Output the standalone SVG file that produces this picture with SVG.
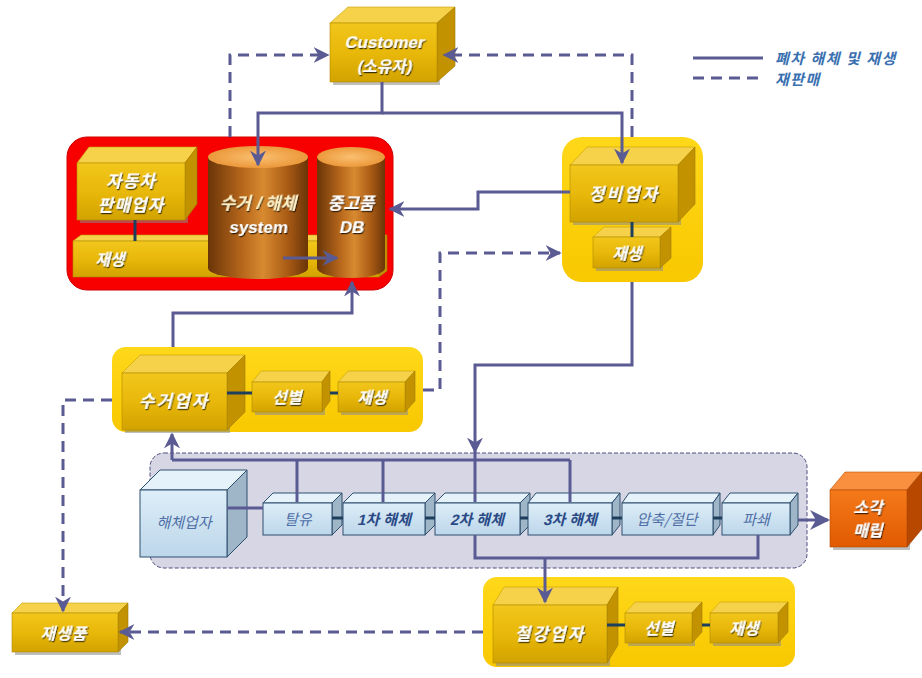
<svg xmlns="http://www.w3.org/2000/svg" width="922" height="678" viewBox="0 0 922 678">
<defs>
<linearGradient id="gFront" x1="0" y1="0" x2="0" y2="1"><stop offset="0" stop-color="#F2C61C"/><stop offset="0.5" stop-color="#E8B80A"/><stop offset="1" stop-color="#D2A200"/></linearGradient>
<linearGradient id="gCont" x1="0" y1="0" x2="0" y2="1"><stop offset="0" stop-color="#FFD81A"/><stop offset="1" stop-color="#F8C800"/></linearGradient>
<linearGradient id="gBlue" x1="0" y1="0" x2="0" y2="1"><stop offset="0" stop-color="#DDEEF8"/><stop offset="1" stop-color="#BCD6EA"/></linearGradient>
<linearGradient id="gOrange" x1="0" y1="0" x2="0" y2="1"><stop offset="0" stop-color="#F57A1A"/><stop offset="1" stop-color="#E05A00"/></linearGradient>
<linearGradient id="gCyl" x1="0" y1="0" x2="1" y2="0"><stop offset="0" stop-color="#6A3508"/><stop offset="0.35" stop-color="#B8681C"/><stop offset="0.55" stop-color="#D88A30"/><stop offset="0.8" stop-color="#A85A14"/><stop offset="1" stop-color="#6A3508"/></linearGradient>
<radialGradient id="gCylTop" cx="0.5" cy="0.5" r="0.6"><stop offset="0" stop-color="#FBC070"/><stop offset="1" stop-color="#E89030"/></radialGradient>
<filter id="ts" x="-20%" y="-30%" width="140%" height="160%"><feDropShadow dx="1.2" dy="1.2" stdDeviation="0.6" flood-color="#000" flood-opacity="0.75"/></filter>
<marker id="ah" viewBox="0 0 10 10" refX="9" refY="5" markerWidth="16" markerHeight="16" markerUnits="userSpaceOnUse" orient="auto"><path d="M0,0 L10,5 L0,10 L3,5 z" fill="#5B5B93"/></marker>
<marker id="ahB" viewBox="0 0 10 10" refX="9" refY="5" markerWidth="20" markerHeight="20" markerUnits="userSpaceOnUse" orient="auto"><path d="M0,0 L10,5 L0,10 L3,5 z" fill="#5B5B93"/></marker>
</defs>
<style>
.ln{fill:none;stroke:#5B5B93;stroke-width:3}
.dl{fill:none;stroke:#5B5B93;stroke-width:3;stroke-dasharray:11 7}
.ct{fill:none;stroke:#1E3E5E;stroke-width:3}
.front{fill:url(#gFront);stroke:#B08A00;stroke-width:0.6}
.top{fill:#F6D24A;stroke:#C8A000;stroke-width:0.6}
.side{fill:#C29200;stroke:#A07800;stroke-width:0.6}
.shd{fill:#8A8A8A;opacity:0.55}
.bfront{fill:url(#gBlue);stroke:#2E4E6E;stroke-width:1}
.btop{fill:#E6F2FA;stroke:#2E4E6E;stroke-width:1}
.bside{fill:#9FB6C8;stroke:#2E4E6E;stroke-width:1}
.cont{fill:url(#gCont)}
.wt{font-family:"Liberation Sans","Noto Sans CJK KR",sans-serif;font-weight:bold;fill:#FFFFFF;text-anchor:middle;filter:url(#ts)}
.bt{font-family:"Noto Sans CJK KR",sans-serif;fill:#4F6FA6;text-anchor:middle;font-size:15px}
.bt2{font-family:"Liberation Sans","Noto Sans CJK KR",sans-serif;font-weight:bold;fill:#2A4A86;text-anchor:middle;font-size:15px}
.lg{font-family:"Noto Sans CJK KR",sans-serif;font-weight:bold;fill:#3A70B0;font-size:15px;letter-spacing:1.5px}
</style>

<!-- containers -->
<rect id="redBox" x="67" y="137" width="326" height="153" rx="20" fill="#F80000" stroke="#D00000" stroke-width="1"/>
<rect x="562" y="137" width="141" height="145" rx="20" class="cont"/>
<rect x="112" y="347" width="311" height="85" rx="14" class="cont"/>
<rect x="150" y="453" width="657" height="115" rx="14" fill="#D6D6E4" stroke="#4E4E80" stroke-width="1" stroke-dasharray="4 2"/>
<rect x="483" y="577" width="312" height="90" rx="14" class="cont"/>

<!-- Customer -->
<g id="customer">
<rect class="shd" x="333" y="26" width="107" height="59"/>
<polygon class="top" points="330,23 348,7 455,7 437,23"/>
<polygon class="side" points="437,23 455,7 455,66 437,82"/>
<rect class="front" x="330" y="23" width="107" height="59"/>
<text class="wt" transform="translate(384,48) skewX(-12)" font-size="17">Customer</text>
<text class="wt" transform="translate(384,72) skewX(-12)" font-size="16">(소유자)</text>
</g>

<!-- red box contents -->
<g id="jaesaeng-bar">
<polygon class="top" points="73,241 81,235 387,235 379,241"/>
<polygon class="side" points="379,241 387,235 387,271 379,277"/>
<rect class="front" x="73" y="241" width="306" height="36"/>
<text class="wt" transform="translate(110,265) skewX(-14)" font-size="16">재생</text>
</g>
<g id="car-dealer">
<rect class="shd" x="80" y="166" width="108" height="57"/>
<polygon class="top" points="77,163 89,147 197,147 185,163"/>
<polygon class="side" points="185,163 197,147 197,204 185,220"/>
<rect class="front" x="77" y="163" width="108" height="57"/>
<text class="wt" transform="translate(131,187) skewX(-14)" font-size="17" letter-spacing="1">자동차</text>
<text class="wt" transform="translate(131,211) skewX(-14)" font-size="17" letter-spacing="1">판매업자</text>
</g>
<g id="system">
<path d="M208,157 V268 A50,11 0 0 0 308,268 V157 Z" fill="url(#gCyl)"/>
<ellipse cx="258" cy="157" rx="50" ry="11" fill="url(#gCylTop)"/>
<text class="wt" transform="translate(258,209) skewX(-14)" font-size="17" style="fill:#FFF2C8">수거 / 해체</text>
<text class="wt" transform="translate(258,233) skewX(-8)" font-size="17">system</text>
</g>
<g id="db">
<path d="M317,157 V268 A34,10 0 0 0 385,268 V157 Z" fill="url(#gCyl)"/>
<ellipse cx="351" cy="157" rx="34" ry="10" fill="url(#gCylTop)"/>
<text class="wt" transform="translate(351,209) skewX(-14)" font-size="17">중고품</text>
<text class="wt" transform="translate(351,233) skewX(-12)" font-size="17">DB</text>
</g>

<!-- 정비업자 -->
<g id="jeongbi">
<rect class="shd" x="573" y="168" width="108" height="57"/>
<polygon class="top" points="570,165 587,147 695,147 678,165"/>
<polygon class="side" points="678,165 695,147 695,204 678,222"/>
<rect class="front" x="570" y="165" width="108" height="57"/>
<text class="wt" transform="translate(624,200) skewX(-14)" font-size="17" letter-spacing="2">정비업자</text>
</g>
<g id="jeongbi-jaesaeng">
<rect class="shd" x="596" y="240" width="67" height="31"/>
<polygon class="top" points="593,237 604,227 671,227 660,237"/>
<polygon class="side" points="660,237 671,227 671,258 660,268"/>
<rect class="front" x="593" y="237" width="67" height="31"/>
<text class="wt" transform="translate(627,259) skewX(-14)" font-size="16">재생</text>
</g>

<!-- 수거업자 -->
<g id="sugeo">
<rect class="shd" x="125" y="376" width="105" height="57"/>
<polygon class="top" points="122,373 140,355 245,355 227,373"/>
<polygon class="side" points="227,373 245,355 245,412 227,430"/>
<rect class="front" x="122" y="373" width="105" height="57"/>
<text class="wt" transform="translate(174,407) skewX(-14)" font-size="17" letter-spacing="2">수거업자</text>
</g>
<g id="sugeo-seonbyeol">
<rect class="shd" x="255" y="385" width="70" height="30"/>
<polygon class="top" points="252,382 261,371 330,371 322,382"/>
<polygon class="side" points="322,382 330,371 330,401 322,412"/>
<rect class="front" x="252" y="382" width="70" height="30"/>
<text class="wt" transform="translate(287,403) skewX(-14)" font-size="16">선별</text>
</g>
<g id="sugeo-jaesaeng">
<rect class="shd" x="341" y="385" width="67" height="30"/>
<polygon class="top" points="338,382 348,371 415,371 405,382"/>
<polygon class="side" points="405,382 415,371 415,401 405,412"/>
<rect class="front" x="338" y="382" width="67" height="30"/>
<text class="wt" transform="translate(372,403) skewX(-14)" font-size="16">재생</text>
</g>

<!-- 해체 group -->
<g id="haeche">
<polygon class="btop" points="140,490 160,470 247,470 227,490"/>
<polygon class="bside" points="227,490 247,470 247,537 227,557"/>
<rect class="bfront" x="140" y="490" width="87" height="67"/>
<text class="bt" transform="translate(184,528) skewX(-14)" font-size="16">해체업자</text>
</g>
<g id="taryu">
<polygon class="btop" points="263,503 273,493 342,493 332,503"/>
<polygon class="bside" points="332,503 342,493 342,525 332,535"/>
<rect class="bfront" x="263" y="503" width="69" height="32"/>
<text class="bt" transform="translate(298,525) skewX(-14)">탈유</text>
</g>
<g id="cha1">
<polygon class="btop" points="343,503 353,493 435,493 425,503"/>
<polygon class="bside" points="425,503 435,493 435,525 425,535"/>
<rect class="bfront" x="343" y="503" width="82" height="32"/>
<text class="bt2" transform="translate(384,525) skewX(-14)">1차 해체</text>
</g>
<g id="cha2">
<polygon class="btop" points="435,503 445,493 530,493 520,503"/>
<polygon class="bside" points="520,503 530,493 530,525 520,535"/>
<rect class="bfront" x="435" y="503" width="85" height="32"/>
<text class="bt2" transform="translate(477,525) skewX(-14)">2차 해체</text>
</g>
<g id="cha3">
<polygon class="btop" points="528,503 536,493 620,493 612,503"/>
<polygon class="bside" points="612,503 620,493 620,525 612,535"/>
<rect class="bfront" x="528" y="503" width="84" height="32"/>
<text class="bt2" transform="translate(570,525) skewX(-14)">3차 해체</text>
</g>
<g id="apchuk">
<polygon class="btop" points="622,503 629,493 720,493 713,503"/>
<polygon class="bside" points="713,503 720,493 720,525 713,535"/>
<rect class="bfront" x="622" y="503" width="91" height="32"/>
<text class="bt" transform="translate(667,525) skewX(-14)">압축/절단</text>
</g>
<g id="paswae">
<polygon class="btop" points="722,503 730,493 798,493 790,503"/>
<polygon class="bside" points="790,503 798,493 798,525 790,535"/>
<rect class="bfront" x="722" y="503" width="68" height="32"/>
<text class="bt" transform="translate(756,525) skewX(-14)">파쇄</text>
</g>

<!-- 소각매립 -->
<g id="sogak">
<rect class="shd" x="833" y="493" width="77" height="57"/>
<polygon points="830,490 845,472 922,472 907,490" fill="#F89040" stroke="#C05000" stroke-width="0.6"/>
<polygon points="907,490 922,472 922,529 907,547" fill="#B84800" stroke="#A04000" stroke-width="0.6"/>
<rect x="830" y="490" width="77" height="57" fill="url(#gOrange)" stroke="#B04800" stroke-width="0.6"/>
<text class="wt" transform="translate(868,513) skewX(-14)" font-size="16">소각</text>
<text class="wt" transform="translate(868,536) skewX(-14)" font-size="16">매립</text>
</g>

<!-- 철강업자 -->
<g id="cheolgang">
<rect class="shd" x="496" y="608" width="114" height="58"/>
<polygon class="top" points="493,605 504,587 618,587 607,605"/>
<polygon class="side" points="607,605 618,587 618,645 607,663"/>
<rect class="front" x="493" y="605" width="114" height="58"/>
<text class="wt" transform="translate(550,640) skewX(-14)" font-size="17" letter-spacing="2">철강업자</text>
</g>
<g id="cheolgang-seonbyeol">
<rect class="shd" x="628" y="616" width="67" height="30"/>
<polygon class="top" points="625,613 635,602 702,602 692,613"/>
<polygon class="side" points="692,613 702,602 702,632 692,643"/>
<rect class="front" x="625" y="613" width="67" height="30"/>
<text class="wt" transform="translate(659,634) skewX(-14)" font-size="16">선별</text>
</g>
<g id="cheolgang-jaesaeng">
<rect class="shd" x="713" y="616" width="68" height="30"/>
<polygon class="top" points="710,613 720,602 788,602 778,613"/>
<polygon class="side" points="778,613 788,602 788,632 778,643"/>
<rect class="front" x="710" y="613" width="68" height="30"/>
<text class="wt" transform="translate(744,634) skewX(-14)" font-size="16">재생</text>
</g>

<!-- 재생품 -->
<g id="jaesaengpum">
<rect class="shd" x="15" y="616" width="106" height="39"/>
<polygon class="top" points="12,613 22,603 128,603 118,613"/>
<polygon class="side" points="118,613 128,603 128,642 118,652"/>
<rect class="front" x="12" y="613" width="106" height="39"/>
<text class="wt" transform="translate(64,639) skewX(-14)" font-size="16" letter-spacing="1">재생품</text>
</g>

<!-- legend -->
<g id="legend">
<line class="ln" x1="693" y1="58" x2="763" y2="58"/>
<line class="dl" x1="693" y1="78" x2="763" y2="78"/>
<text class="lg" transform="translate(775,64) skewX(-14)">폐차 해체 및 재생</text>
<text class="lg" transform="translate(775,85) skewX(-14)">재판매</text>
</g>

<!-- connectors -->
<g id="connectors">
<path class="ln" d="M382,82 V113 H258 V165" marker-end="url(#ah)"/>
<path class="ln" d="M382,113 H622 V163" marker-end="url(#ah)"/>
<path class="dl" d="M230,137 V55 H328" marker-end="url(#ah)"/>
<path class="dl" d="M632,137 V55 H444" marker-end="url(#ah)"/>
<path class="ln" d="M570,192 H478 V209 H390" marker-end="url(#ah)"/>
<path class="ln" d="M283,258 H337" marker-end="url(#ah)"/>
<path class="dl" d="M423,390 H440 V253 H560" marker-end="url(#ah)"/>
<path class="ln" d="M632,282 V365 H475 V452" marker-end="url(#ah)"/>
<path class="ln" d="M173,347 V313 H352 V282" marker-end="url(#ah)"/>
<path class="ln" d="M172,460 H570"/>
<path class="ln" d="M172,460 V434" marker-end="url(#ah)"/>
<path class="ln" d="M297,460 V502 M383,460 V502 M475,452 V502 M570,460 V502"/>
<path class="ln" d="M475,535 V558 H758 V535"/>
<path class="ln" d="M545,558 V602" marker-end="url(#ah)"/>
<path class="ln" d="M798,520 H828" stroke-width="5" marker-end="url(#ahB)"/>
<path class="dl" d="M112,400 H63 V611" marker-end="url(#ah)"/>
<path class="dl" d="M483,632 H120" marker-end="url(#ah)"/>
<path class="ln" d="M227,508 H263" stroke-width="2.5"/>
<path class="ct" d="M332,518 H343 M425,518 H435 M520,518 H528 M612,518 H622 M713,518 H722"/>
<path class="ct" d="M227,393 H252 M330,393 H338 M607,625 H625 M702,625 H710"/>
<path class="ct" d="M632,222 V237 M135,220 V241"/>
</g>
</svg>
